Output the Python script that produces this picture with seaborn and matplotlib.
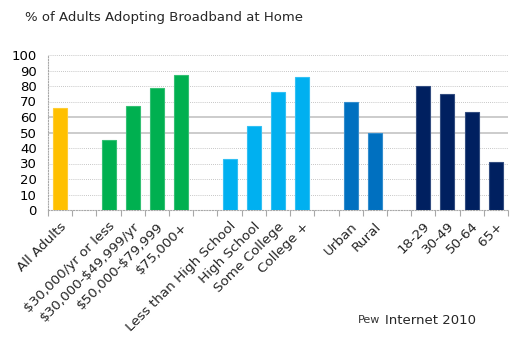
import matplotlib
matplotlib.use("Agg")
import matplotlib.pyplot as plt
import seaborn as sns
import pandas as pd
import numpy as np

categories = ["All Adults", "", "$30,000/yr or less", "$30,000-$49,999/yr", "$50,000-$79,999", "$75,000+", " ",
              "Less than High School", "High School", "Some College", "College +", "  ",
              "Urban", "Rural", "   ", "18-29", "30-49", "50-64", "65+"]
labels = ["All Adults", "$30,000/yr or less", "$30,000-$49,999/yr", "$50,000-$79,999", "$75,000+",
          "Less than High School", "High School", "Some College", "College +",
          "Urban", "Rural", "18-29", "30-49", "50-64", "65+"]
values = [66, 45, 67, 79, 87, 33, 54, 76, 86, 70, 50, 80, 75, 63, 31]
groups = ["All", "Income", "Income", "Income", "Income", "Education", "Education", "Education", "Education",
          "Place", "Place", "Age", "Age", "Age", "Age"]
group_colors = {"All": "#FFC000", "Income": "#00B050", "Education": "#00B0F0", "Place": "#0070C0", "Age": "#002060"}
yticks = [0, 10, 20, 30, 40, 50, 60, 70, 80, 90, 100]

df = pd.DataFrame({"label": labels, "value": values, "group": groups})

sns.set_style("white")
plt.rcParams["font.family"] = ["DejaVu Sans"]
plt.rcParams["text.parse_math"] = False

fig = plt.figure(figsize=(5.27, 3.51), dpi=100)
ax = fig.add_axes([48/527, 1-210/351, 460/527, 155/351])

sns.barplot(data=df, x="label", y="value", hue="group", order=categories, palette=group_colors,
            dodge=False, width=0.58, legend=False, ax=ax, saturation=1, zorder=3)
for p in ax.patches:
    fc = p.get_facecolor()
    ec = tuple(min(1, c*0.8 + 0.2) for c in fc[:3])
    p.set_edgecolor(ec)
    p.set_linewidth(0.8)

ax.set_xlim(-0.5, len(categories) - 0.5)
ax.set_ylim(0, 100)
ax.set_yticks(yticks)
ax.set_yticklabels([str(t) for t in yticks], fontsize=9.5, color="black")
for t in yticks[1:]:
    if t in (50, 60):
        ax.axhline(t, color="#cccccc", lw=1.4, zorder=0)
    else:
        ax.axhline(t, color="#b4b4b4", lw=0.6, ls=(0, (1, 1.5)), zorder=0)

ax.set_xticks(range(len(categories)))
ax.set_xticklabels(categories, rotation=45, ha="right", rotation_mode="anchor", fontsize=9.7)
ax.tick_params(axis="x", which="major", length=0, pad=7, bottom=False)
ax.tick_params(axis="y", which="major", length=0, pad=8)
ax.set_xticks(np.arange(-0.5, len(categories), 1), minor=True)
ax.tick_params(axis="x", which="minor", length=4, color="#a8a8a8", width=0.8, bottom=True, direction="out")
ax.set_xlabel("")
ax.set_ylabel("")

for s in ["top", "right"]:
    ax.spines[s].set_visible(False)
for s in ["left", "bottom"]:
    ax.spines[s].set_color("#a8a8a8")
    ax.spines[s].set_linestyle((0, (1, 1.5)))
    ax.spines[s].set_linewidth(0.8)

fig.text(25/527, 1-18/351, "% of Adults Adopting Broadband at Home", fontsize=9.5, va="center", ha="left")
fig.text(358/527, 1-320/351, "Pew", fontsize=8, va="center", ha="left", color="#333333")
fig.text(385/527, 1-320/351, "Internet 2010", fontsize=9.5, va="center", ha="left")

fig.savefig("out.png", dpi=100)
